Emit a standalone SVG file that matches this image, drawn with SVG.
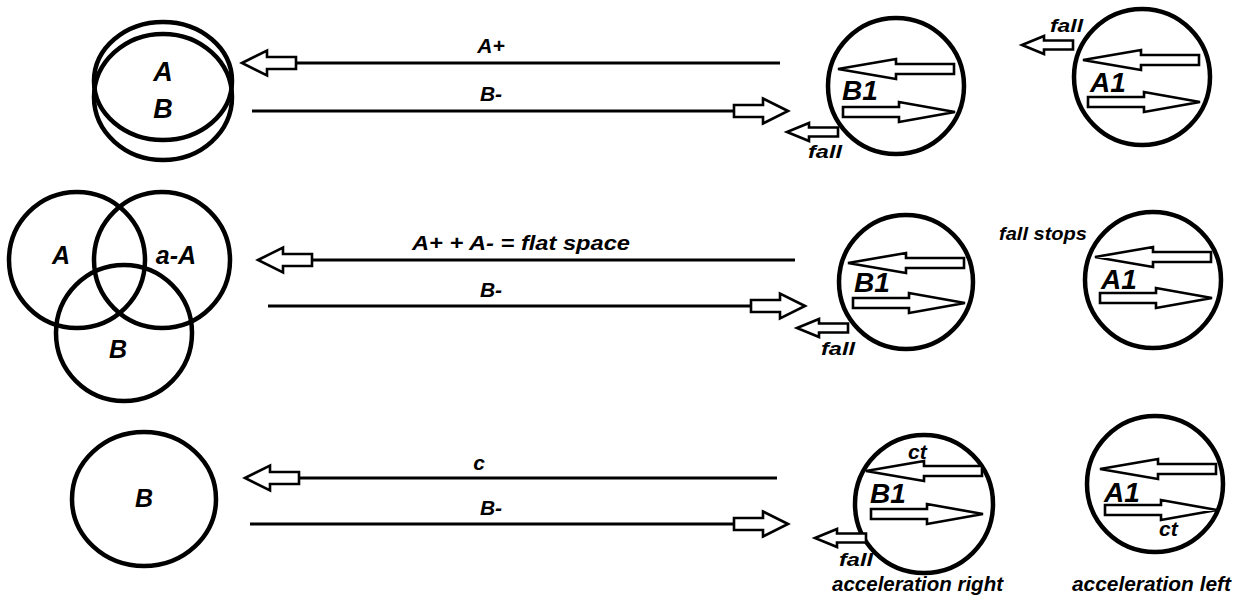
<svg xmlns="http://www.w3.org/2000/svg" xmlns:xlink="http://www.w3.org/1999/xlink" width="1242" height="599" viewBox="0 0 1242 599">
  <style>
    .ring { fill: none; stroke: #000; stroke-width: 4.5; }
    .wire { fill: none; stroke: #000; stroke-width: 3; }
    .hollow { fill: #fff; stroke: #000; stroke-width: 2.6; stroke-linejoin: miter; }
    .lbl { font-family: "Liberation Sans", Arial, sans-serif; font-weight: bold; font-style: italic; fill: #000; }
    .big { font-size: 27px; }
    .venn { font-size: 25px; }
    .mid { font-size: 21px; }
    .id { font-size: 28px; }
    .small { font-size: 19px; }
    .note { font-size: 21px; }
  </style>
  <defs>
    <!-- wide hollow arrow, tip at origin, pointing left -->
    <path id="headL" d="M0,0 L25,-12.5 L25,-6 L54,-6 L54,6 L25,6 L25,12.5 Z"/>
    <!-- wide hollow arrow, tip at origin, pointing right -->
    <path id="headR" d="M0,0 L-25,-12.5 L-25,-6 L-54,-6 L-54,6 L-25,6 L-25,12.5 Z"/>
    <!-- long slim hollow arrow, tip at origin, pointing left -->
    <path id="slimL" d="M0,0 L58,-10 L58,-5 L116,-5 L116,5 L58,5 L58,10 Z"/>
    <!-- long slim hollow arrow, tip at origin, pointing right -->
    <path id="slimR" d="M0,0 L-56,-10 L-56,-5 L-112,-5 L-112,5 L-56,5 L-56,10 Z"/>
    <!-- small fall arrow, tip at origin, pointing left -->
    <path id="fallL" d="M0,0 L22,-9 L22,-4.5 L51,-4.5 L51,4.5 L22,4.5 L22,9 Z"/>
  </defs>

  <!-- row 1: overlapping A / B -->
  <g id="ab-overlap">
    <ellipse class="ring" cx="163" cy="81" rx="69" ry="59"/>
    <ellipse class="ring" cx="163" cy="97" rx="69" ry="63"/>
    <text class="lbl big" x="163" y="81" text-anchor="middle">A</text>
    <text class="lbl big" x="163" y="118" text-anchor="middle">B</text>
  </g>

  <!-- row 2: three-way overlap -->
  <g id="venn">
    <circle class="ring" cx="77" cy="260" r="68"/>
    <circle class="ring" cx="162" cy="260" r="68"/>
    <circle class="ring" cx="124" cy="333" r="68"/>
    <text class="lbl venn" x="61" y="264" text-anchor="middle">A</text>
    <text class="lbl venn" x="176" y="264" text-anchor="middle">a-A</text>
    <text class="lbl venn" x="118" y="358" text-anchor="middle">B</text>
  </g>

  <!-- row 3: B alone -->
  <g id="b-alone">
    <ellipse class="ring" cx="144" cy="499" rx="72" ry="67"/>
    <text class="lbl venn" x="144" y="507" text-anchor="middle">B</text>
  </g>

  <!-- long connectors between the left figures and the B1 bodies -->
  <g id="connectors">
    <line class="wire" x1="294" y1="63" x2="780" y2="63"/>
    <use href="#headL" class="hollow" transform="translate(242,63)"/>
    <text class="lbl mid" x="491" y="53" text-anchor="middle">A+</text>

    <line class="wire" x1="252" y1="111" x2="735" y2="111"/>
    <use href="#headR" class="hollow" transform="translate(788,111)"/>
    <text class="lbl mid" x="491" y="101" text-anchor="middle">B-</text>

    <line class="wire" x1="310" y1="260" x2="795" y2="260"/>
    <use href="#headL" class="hollow" transform="translate(258,260)"/>
    <text class="lbl mid" x="412" y="250" font-size="23" textLength="218" lengthAdjust="spacingAndGlyphs">A+ + A- = flat space</text>

    <line class="wire" x1="268" y1="306" x2="752" y2="306"/>
    <use href="#headR" class="hollow" transform="translate(805,306)"/>
    <text class="lbl mid" x="491" y="297" text-anchor="middle">B-</text>

    <line class="wire" x1="297" y1="478" x2="777" y2="478"/>
    <use href="#headL" class="hollow" transform="translate(245,478)"/>
    <text class="lbl mid" x="479" y="470" text-anchor="middle">c</text>

    <line class="wire" x1="250" y1="524" x2="735" y2="524"/>
    <use href="#headR" class="hollow" transform="translate(788,524)"/>
    <text class="lbl mid" x="491" y="515" text-anchor="middle">B-</text>
  </g>

  <!-- row 1: B1 -->
  <g id="b1-row1">
    <circle class="ring" cx="896" cy="86" r="68"/>
    <use href="#slimL" class="hollow" transform="translate(838,69)"/>
    <use href="#slimR" class="hollow" transform="translate(955,112)"/>
    <text class="lbl id" x="842" y="100">B1</text>
    <use href="#fallL" class="hollow" transform="translate(787,132)"/>
    <text class="lbl small" x="808" y="158" textLength="34" lengthAdjust="spacingAndGlyphs">fall</text>
  </g>

  <!-- row 1: A1 -->
  <g id="a1-row1">
    <circle class="ring" cx="1142" cy="77" r="68"/>
    <use href="#slimL" class="hollow" transform="translate(1083,60)"/>
    <use href="#slimR" class="hollow" transform="translate(1200,102)"/>
    <text class="lbl id" x="1090" y="92">A1</text>
    <use href="#fallL" class="hollow" transform="translate(1022,45)"/>
    <text class="lbl small" x="1050" y="32" textLength="33" lengthAdjust="spacingAndGlyphs">fall</text>
  </g>

  <!-- row 2: B1 -->
  <g id="b1-row2">
    <circle class="ring" cx="906" cy="282" r="67"/>
    <use href="#slimL" class="hollow" transform="translate(848,263)"/>
    <use href="#slimR" class="hollow" transform="translate(965,303)"/>
    <text class="lbl id" x="854" y="292">B1</text>
    <use href="#fallL" class="hollow" transform="translate(797,328)"/>
    <text class="lbl small" x="821" y="355" textLength="34" lengthAdjust="spacingAndGlyphs">fall</text>
  </g>

  <!-- row 2: A1 -->
  <g id="a1-row2">
    <circle class="ring" cx="1153" cy="280" r="68"/>
    <use href="#slimL" class="hollow" transform="translate(1095,257)"/>
    <use href="#slimR" class="hollow" transform="translate(1212,298)"/>
    <text class="lbl id" x="1101" y="289">A1</text>
    <text class="lbl small" x="999" y="240" textLength="88" lengthAdjust="spacingAndGlyphs">fall stops</text>
  </g>

  <!-- row 3: B1 -->
  <g id="b1-row3">
    <circle class="ring" cx="924" cy="504" r="69"/>
    <use href="#slimL" class="hollow" transform="translate(866,471)"/>
    <use href="#slimR" class="hollow" transform="translate(983,514)"/>
    <text class="lbl id" x="870" y="503">B1</text>
    <text class="lbl note" x="908" y="459">ct</text>
    <use href="#fallL" class="hollow" transform="translate(815,538)"/>
    <text class="lbl small" x="839" y="566" textLength="34" lengthAdjust="spacingAndGlyphs">fall</text>
    <text class="lbl note" x="832" y="591" textLength="171" lengthAdjust="spacingAndGlyphs">acceleration right</text>
  </g>

  <!-- row 3: A1 -->
  <g id="a1-row3">
    <circle class="ring" cx="1155" cy="484" r="68"/>
    <use href="#slimL" class="hollow" transform="translate(1100,469)"/>
    <use href="#slimR" class="hollow" transform="translate(1217,510)"/>
    <text class="lbl id" x="1104" y="502">A1</text>
    <text class="lbl note" x="1159" y="536">ct</text>
    <text class="lbl note" x="1072" y="591" textLength="159" lengthAdjust="spacingAndGlyphs">acceleration left</text>
  </g>
</svg>
